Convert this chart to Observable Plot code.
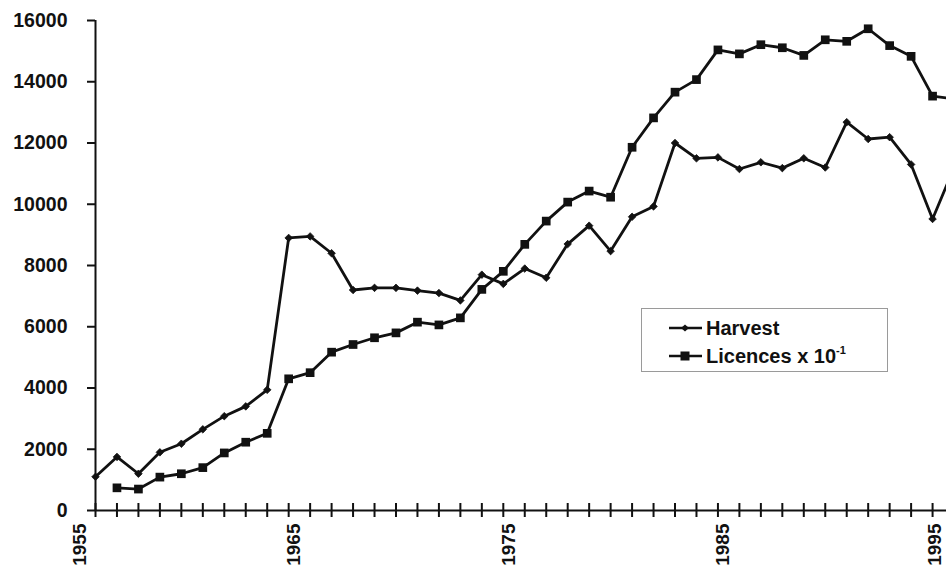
<!DOCTYPE html>
<html><head><meta charset="utf-8">
<script src="https://cdn.jsdelivr.net/npm/d3@7"></script>
<script src="https://cdn.jsdelivr.net/npm/@observablehq/plot@0.6"></script>
<style>
html,body{margin:0;padding:0;background:#fff;overflow:hidden;width:946px;height:571px;}
#chart{position:relative;width:946px;height:571px;overflow:hidden;}
#chart > svg{position:absolute;left:0;top:0;max-width:none !important;width:975px;height:571px;}
.legend{position:absolute;left:641px;top:308px;width:247px;height:64px;border:1px solid #9a9a9a;box-sizing:border-box;background:#fff;
  font-family:"Liberation Sans",Arial,sans-serif;font-weight:bold;font-size:20px;color:#111;}
.row{position:absolute;left:27px;height:24px;display:flex;align-items:center;white-space:nowrap;}
.row svg{display:block;margin-right:4px;flex:none;}
sup{font-size:11px;vertical-align:9px;}
</style>
</head><body>
<div id="chart"></div>
<script>
// Data (Licences already scaled x 10^-1)
const years = [1955,1956,1957,1958,1959,1960,1961,1962,1963,1964,1965,1966,1967,1968,1969,1970,1971,1972,1973,1974,1975,1976,1977,1978,1979,1980,1981,1982,1983,1984,1985,1986,1987,1988,1989,1990,1991,1992,1993,1994,1995];
const harvest = [1100,1750,1200,1900,2180,2650,3080,3400,3940,8900,8950,8400,7200,7270,7270,7180,7100,6860,7700,7400,7900,7600,8700,9300,8470,9590,9930,12000,11500,11530,11150,11370,11180,11500,11200,12680,12130,12190,11300,9520,11200];
const licences = [null,740,700,1090,1200,1400,1880,2230,2520,4300,4500,5170,5420,5640,5800,6150,6060,6290,7220,7810,8690,9450,10070,10430,10230,11860,12820,13660,14070,15040,14910,15210,15110,14860,15370,15320,15730,15180,14830,13530,13440];
const yTicks = [0,2000,4000,6000,8000,10000,12000,14000,16000];
const xLabels = [1955,1965,1975,1985];
const xLabelsEdge = [1995];

const harvestData = years.map((y,i)=>({year:y, value:harvest[i]}));
const licenceData = years.map((y,i)=>({year:y, value:licences[i]}));

const font = '"Liberation Sans", Arial, sans-serif';
const ink = "#111";
const labelStyle = {x: d => d, y: 0, text: d => String(d), rotate: -90, textAnchor: "end", dy: 13, fontSize: 19, fontWeight: "bold", fill: ink};

const plot = Plot.plot({
  width: 975,
  height: 571,
  marginLeft: 95,
  marginRight: 0,
  marginTop: 20,
  marginBottom: 61,
  style: {fontFamily: font, fontSize: "19px", fontWeight: "bold", color: ink, background: "#fff", overflow: "visible", maxWidth: "none"},
  x: {domain: [1955, 1996], axis: null},
  y: {domain: [0, 16000], axis: null},
  marks: [
    Plot.axisY({ticks: yTicks, tickSize: 8, tickPadding: 20, tickFormat: d => String(d), fontSize: 19.5, fontWeight: "bold", strokeWidth: 2, label: null, stroke: ink, fill: ink}),
    Plot.ruleX([1955], {stroke: ink, strokeWidth: 2}),
    Plot.ruleY([0], {stroke: ink, strokeWidth: 2}),
    Plot.ruleX(years, {x: d => d, y1: 0, y2: 0, insetTop: -7, insetBottom: -7, stroke: ink, strokeWidth: 2}),
    Plot.text(xLabels, {...labelStyle, dx: -16}),
    Plot.text(xLabelsEdge, {...labelStyle, dx: -19}),
    Plot.line(harvestData, {x: "year", y: "value", stroke: ink, strokeWidth: 2.8}),
    Plot.line(licenceData, {x: "year", y: "value", stroke: ink, strokeWidth: 2.8}),
    Plot.dot(harvestData, {x: "year", y: "value", symbol: "diamond2", r: 3.4, fill: ink, stroke: ink, strokeWidth: 0.8}),
    Plot.dot(licenceData.filter(d => d.value != null), {x: "year", y: "value", symbol: "square", r: 4.9, fill: ink, stroke: "none"})
  ]
});
document.getElementById("chart").appendChild(plot);

// Legend
const legend = document.createElement("div");
legend.className = "legend";
function sample(sym){
  const s = sym === "diamond"
    ? '<path d="M16,2.5L20,6L16,9.5L12,6Z" fill="#111"/>'
    : '<rect x="11.5" y="1.5" width="9" height="9" fill="#111"/>';
  return '<svg width="33" height="12" viewBox="0 0 33 12"><line x1="0" y1="6" x2="33" y2="6" stroke="#111" stroke-width="2.6"/>' + s + '</svg>';
}
legend.innerHTML =
  '<div class="row" style="top:7px">' + sample("diamond") + '<span>Harvest</span></div>' +
  '<div class="row" style="top:35px">' + sample("square") + '<span>Licences x 10<sup>-1</sup></span></div>';
document.getElementById("chart").appendChild(legend);
</script>
</body></html>
